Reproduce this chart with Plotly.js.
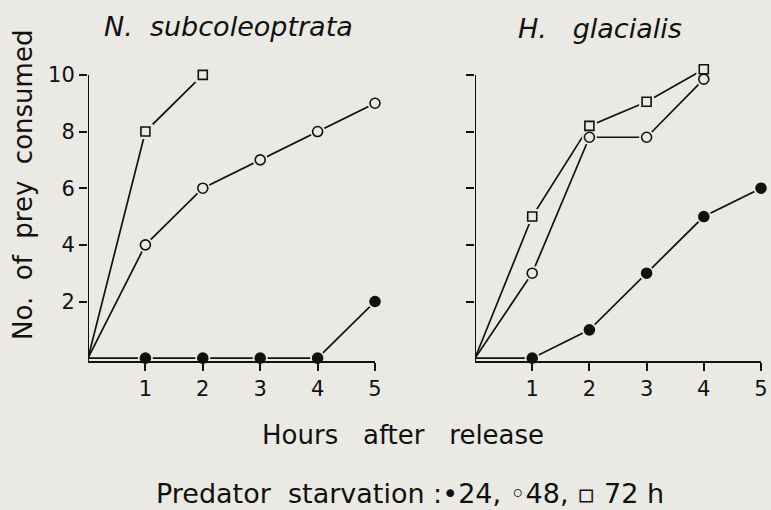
<!DOCTYPE html>
<html>
<head>
<meta charset="utf-8">
<script src="https://cdn.plot.ly/plotly-3.0.1.min.js"></script>
<style>html,body{margin:0;padding:0;background:#ebe9e4;}#chart{width:771px;height:510px;}</style>
</head>
<body>
<div id="chart"></div>
<script>
// Data (hours after release vs. number of prey consumed)
const hoursN24 = [0, 1, 2, 3, 4, 5];
const preyN24  = [0, 0, 0, 0, 0, 2];
const hoursN48 = [0, 1, 2, 3, 4, 5];
const preyN48  = [0, 4, 6, 7, 8, 9];
const hoursN72 = [0, 1, 2];
const preyN72  = [0, 8, 10];

const hoursH24 = [0, 1, 2, 3, 4, 5];
const preyH24  = [0, 0, 1, 3, 5, 6];
const hoursH48 = [0, 1, 2, 3, 4];
const preyH48  = [0, 3, 7.8, 7.8, 9.85];
const hoursH72 = [0, 1, 2, 3, 4];
const preyH72  = [0, 5, 8.2, 9.05, 10.2];

const xTicks = [1, 2, 3, 4, 5];
const yTicks = [2, 4, 6, 8, 10];
const yTickLabels = ['2', '4', '6', '8', '10'];

const BG = '#ebe9e4';
const INK = '#111111';
const FONT = 'DejaVu Sans, sans-serif';

const Y_MIN = -0.1, Y_TOP = 10, Y_MAX = 10.35;

const series = [
  {x: hoursN24, y: preyN24, ax: ['x', 'y'], sym: 'circle', fill: INK},
  {x: hoursN48, y: preyN48, ax: ['x', 'y'], sym: 'circle', fill: BG},
  {x: hoursN72, y: preyN72, ax: ['x', 'y'], sym: 'square', fill: BG},
  {x: hoursH24, y: preyH24, ax: ['x2', 'y2'], sym: 'circle', fill: INK},
  {x: hoursH48, y: preyH48, ax: ['x2', 'y2'], sym: 'circle', fill: BG},
  {x: hoursH72, y: preyH72, ax: ['x2', 'y2'], sym: 'square', fill: BG}
];

const traces = [];
// lines
series.forEach(s => traces.push({
  type: 'scatter', mode: 'lines', x: s.x, y: s.y, xaxis: s.ax[0], yaxis: s.ax[1],
  line: {color: INK, width: 1.7}, hoverinfo: 'skip', showlegend: false, cliponaxis: false
}));
// halos (gap between line and marker)
series.forEach(s => traces.push({
  type: 'scatter', mode: 'markers', x: s.x, y: s.y, xaxis: s.ax[0], yaxis: s.ax[1],
  marker: {symbol: s.sym, size: s.x.map((v, i) => i === 0 ? 0 : 15), color: BG, opacity: 1, line: {width: 0}},
  hoverinfo: 'skip', showlegend: false, cliponaxis: false
}));
// markers
series.forEach(s => traces.push({
  type: 'scatter', mode: 'markers', x: s.x, y: s.y, xaxis: s.ax[0], yaxis: s.ax[1],
  marker: {symbol: s.sym, size: s.x.map((v, i) => i === 0 ? 0 : (s.sym === 'square' ? 9 : 10)),
           color: s.fill, opacity: 1, line: {color: INK, width: 1.6}},
  showlegend: false, cliponaxis: false
}));

const xaxisBase = {
  range: [0, 5], tickvals: xTicks, ticks: 'outside', ticklen: 8, tickwidth: 2, tickcolor: INK,
  showline: true, linewidth: 2, linecolor: INK, showgrid: false, zeroline: false,
  tickfont: {family: FONT, size: 21, color: INK}, fixedrange: true
};
const yaxisBase = {
  range: [Y_MIN, Y_MAX], tickvals: yTicks, ticktext: yTickLabels, ticks: 'outside', ticklen: 8, tickwidth: 2,
  tickcolor: INK, showline: false, showgrid: false, zeroline: false,
  tickfont: {family: FONT, size: 21, color: INK}, fixedrange: true
};

const S = '\u00A0';
const plotTop = 75 - (Y_MAX - Y_TOP) * 28.3;
const plotH = 361 - plotTop;
const py = pix => (361 - pix) / plotH;

const layout = {
  width: 771, height: 510,
  paper_bgcolor: BG, plot_bgcolor: BG,
  margin: {l: 0, r: 0, t: plotTop, b: 149},
  showlegend: false,
  xaxis: Object.assign({}, xaxisBase, {domain: [88 / 771, 375 / 771], anchor: 'y'}),
  yaxis: Object.assign({}, yaxisBase, {anchor: 'x', domain: [0, 1]}),
  xaxis2: Object.assign({}, xaxisBase, {domain: [475 / 771, 761 / 771], anchor: 'y2'}),
  yaxis2: Object.assign({}, yaxisBase, {anchor: 'x2', domain: [0, 1], showticklabels: false}),
  shapes: [
    {type: 'line', xref: 'x', yref: 'y', x0: 0, x1: 0, y0: Y_MIN, y1: Y_TOP, line: {color: INK, width: 2}},
    {type: 'line', xref: 'x2', yref: 'y2', x0: 0, x1: 0, y0: Y_MIN, y1: Y_TOP, line: {color: INK, width: 2}}
  ],
  annotations: [
    {text: '<i>N.' + S + S + 'subcoleoptrata</i>', xref: 'paper', yref: 'paper', x: 228 / 771, y: py(27),
     xanchor: 'center', yanchor: 'middle', showarrow: false, font: {family: FONT, size: 27, color: INK}},
    {text: '<i>H.' + S + S + S + 'glacialis</i>', xref: 'paper', yref: 'paper', x: 600 / 771, y: py(29),
     xanchor: 'center', yanchor: 'middle', showarrow: false, font: {family: FONT, size: 27, color: INK}},
    {text: 'No.' + S + S + 'of' + S + S + 'prey' + S + S + 'consumed', xref: 'paper', yref: 'paper', x: 23 / 771, y: py(185),
     xanchor: 'center', yanchor: 'middle', textangle: -90, showarrow: false, font: {family: FONT, size: 26, color: INK}},
    {text: 'Hours' + S + S + S + 'after' + S + S + S + 'release', xref: 'paper', yref: 'paper', x: 403 / 771, y: py(435),
     xanchor: 'center', yanchor: 'middle', showarrow: false, font: {family: FONT, size: 26, color: INK}},
    {text: 'Predator' + S + S + 'starvation' + S + ':' + '\u2022' + '24,' + S + '\u25E6' + '48,' + S + '\u25AB' + S + '72' + S + 'h',
     xref: 'paper', yref: 'paper', x: 410 / 771, y: py(493),
     xanchor: 'center', yanchor: 'middle', showarrow: false, font: {family: FONT, size: 27, color: INK}}
  ]
};

Plotly.newPlot('chart', traces, layout, {displayModeBar: false, staticPlot: true});
</script>
</body>
</html>
